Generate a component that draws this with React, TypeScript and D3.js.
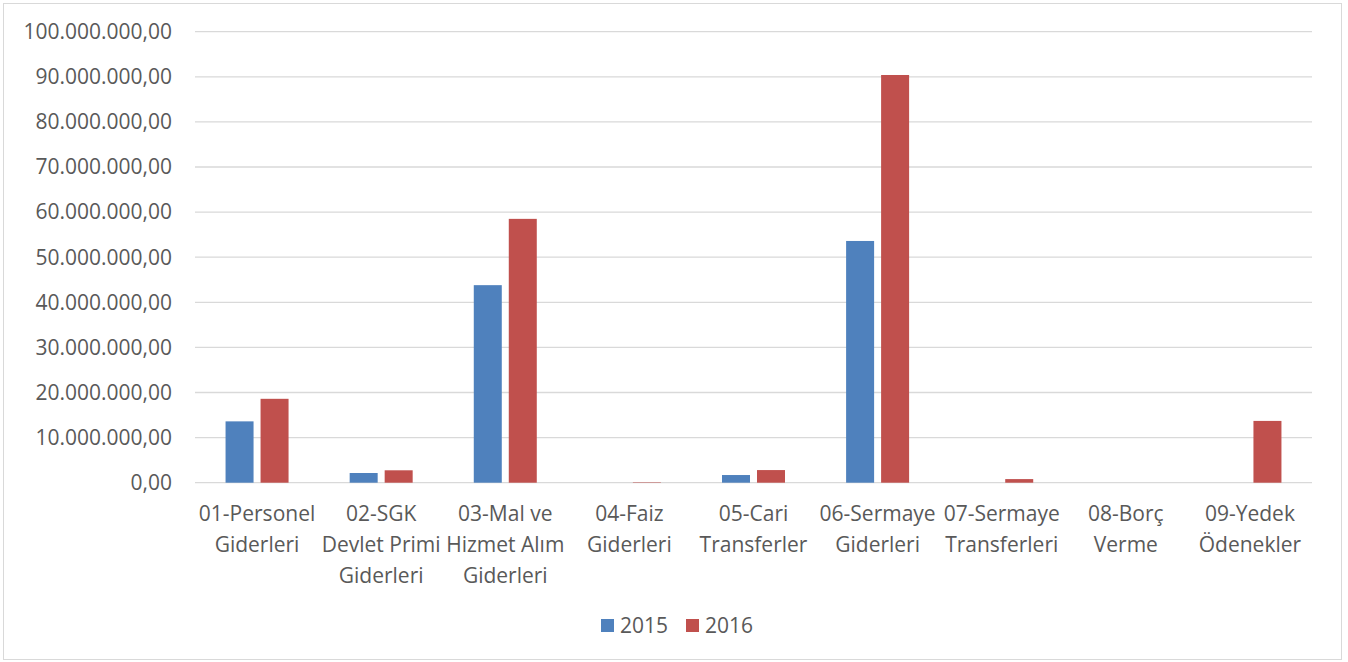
import * as d3 from 'd3';

const categories = [
  ['01-Personel', 'Giderleri'],
  ['02-SGK', 'Devlet Primi', 'Giderleri'],
  ['03-Mal ve', 'Hizmet Alım', 'Giderleri'],
  ['04-Faiz', 'Giderleri'],
  ['05-Cari', 'Transferler'],
  ['06-Sermaye', 'Giderleri'],
  ['07-Sermaye', 'Transferleri'],
  ['08-Borç', 'Verme'],
  ['09-Yedek', 'Ödenekler'],
];
const years = ['2015', '2016'];
const values2015 = [13600000, 2150000, 43800000, 0, 1700000, 53600000, 0, 0, 0];
const values2016 = [18600000, 2750000, 58500000, 100000, 2800000, 90400000, 800000, 0, 13700000];
const yTicks = [0, 10e6, 20e6, 30e6, 40e6, 50e6, 60e6, 70e6, 80e6, 90e6, 100e6];

const colors: Record<string, string> = { '2015': '#4f81bd', '2016': '#c0504d' };
const W = 1348;
const H = 662;
const font = "'Open Sans', sans-serif";
const fs = 21;

const fmt = (v: number) => {
  const [int, dec] = v.toFixed(2).split('.');
  return int.replace(/\B(?=(\d{3})+(?!\d))/g, '.') + ',' + dec;
};

export default function App() {
  const left = 195;
  const right = 1312;
  const top = 31.7;
  const bottom = 482.7;

  const names = categories.map((c) => c.join(' '));
  const x0 = d3.scaleBand().domain(names).range([left, right]).padding(0);
  const step = x0.bandwidth();
  const x1 = d3.scaleBand().domain(years).range([(step - 63) / 2, (step + 63) / 2]).paddingInner(0.2);
  const y = d3.scaleLinear().domain([0, 100e6]).range([bottom, top]);

  const series = [
    { year: '2015', values: values2015 },
    { year: '2016', values: values2016 },
  ];

  return (
    <svg width={W} height={H} style={{ position: 'absolute', left: 0, top: 0, background: '#fff' }} fontFamily={font}>
      <rect x={3.5} y={3.5} width={1338} height={656} fill="#fff" stroke="#d9d9d9" strokeWidth={1} />
      {yTicks.map((t) => (
        <g key={t}>
          <line x1={left} x2={right} y1={y(t)} y2={y(t)} stroke="#d9d9d9" strokeWidth={1.3} />
          <text x={172} y={y(t)} dy="0.35em" textAnchor="end" fontSize={fs} fill="#595959">
            {fmt(t)}
          </text>
        </g>
      ))}
      {series.map((s) =>
        s.values.map((v, i) =>
          v > 0 ? (
            <rect
              key={s.year + i}
              x={x0(names[i])! + x1(s.year)!}
              y={y(v)}
              width={x1.bandwidth()}
              height={bottom - y(v)}
              fill={colors[s.year]}
            />
          ) : null
        )
      )}
      {categories.map((lines, i) => (
        <text key={i} textAnchor="middle" fontSize={fs} fill="#595959">
          {lines.map((l, j) => (
            <tspan key={j} x={x0(names[i])! + step / 2} y={514 + j * 30.7} dy="0.35em">
              {l}
            </tspan>
          ))}
        </text>
      ))}
      <g fontSize={fs} fill="#595959">
        <rect x={601} y={619} width={13} height={13} fill={colors['2015']} />
        <text x={620} y={626} dy="0.35em">2015</text>
        <rect x={686} y={619} width={13} height={13} fill={colors['2016']} />
        <text x={705} y={626} dy="0.35em">2016</text>
      </g>
    </svg>
  );
}
